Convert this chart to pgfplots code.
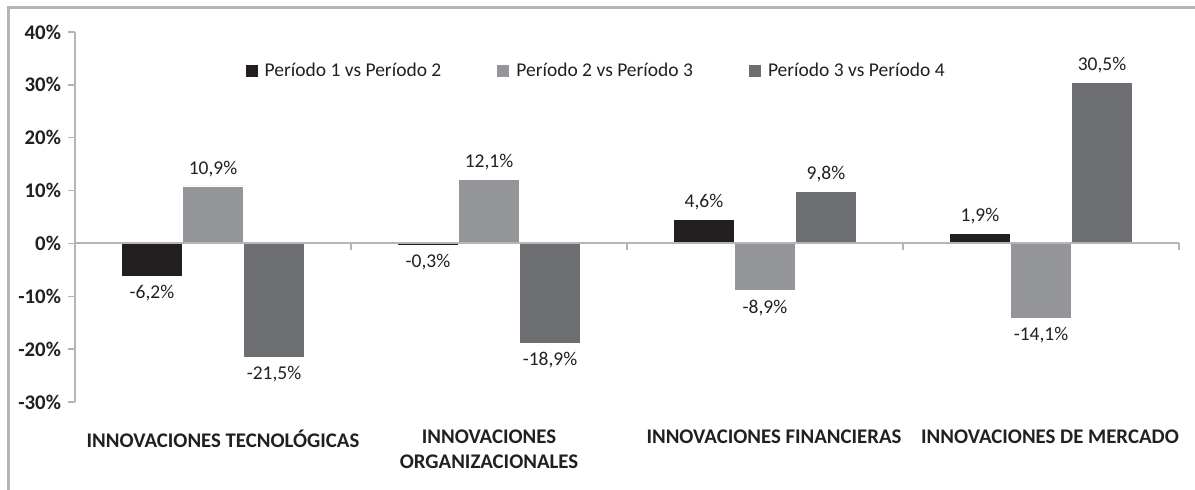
\documentclass[border=0pt]{standalone}
\usepackage{pgfplots}
\pgfplotsset{compat=1.18}
\usepackage{pgfplotstable}
\usepackage{fontspec}
\setmainfont{Carlito}
\definecolor{c1}{HTML}{231F20}
\definecolor{c2}{HTML}{939598}
\definecolor{c3}{HTML}{6D6E71}
\definecolor{axg}{HTML}{B5B5B5}
\definecolor{txt}{HTML}{231F20}
\pgfplotsset{sqlegend/.style={legend image code/.code={\fill[##1,draw=none] (0pt,-3pt) rectangle (6pt,3pt);}}}

\pgfplotstableread{
x y
0 -6.2
1 -0.3
2 4.6
3 1.9
}\dataA
\pgfplotstableread{
x y
0 10.9
1 12.1
2 -8.9
3 -14.1
}\dataB
\pgfplotstableread{
x y
0 -21.5
1 -18.9
2 9.8
3 30.5
}\dataC

\begin{document}
\begin{tikzpicture}[x=1pt,y=1pt]
\useasboundingbox (0,0) rectangle (597.5,245);
\draw[axg, line width=1.5pt] (4,0) -- (4,241) -- (597.5,241);
\begin{axis}[
  at={(37.5pt,44pt)}, anchor=south west,
  width=552pt, height=185pt, scale only axis,
  xmin=-0.5, xmax=3.5, ymin=-30, ymax=40,
  axis lines=left,
  x axis line style={draw=none},
  y axis line style={axg, line width=0.75pt, -},
  ytick={-30,-20,...,40},
  yticklabel={\pgfmathprintnumber[assume math mode=true]{\tick}\%},
  yticklabel style={font=\fontsize{10.4}{12}\selectfont\bfseries, text=txt},
  ytick style={axg, line width=0.75pt},
  tick align=outside, major tick length=3.5pt,
  xtick={0,1,2,3}, xtick style={draw=none},
  xticklabels={\hspace*{10pt}INNOVACIONES TECNOLÓGICAS, {INNOVACIONES\\ORGANIZACIONALES}, \hspace*{9pt}INNOVACIONES FINANCIERAS, \hspace*{9pt}INNOVACIONES DE MERCADO},
  xticklabel style={font=\fontsize{10.4}{12.5}\selectfont\bfseries, text=txt, align=center, anchor=north, yshift=-7pt},
  ybar=0pt, bar width=30.5pt,
  nodes near coords={\pgfmathprintnumber[use comma,fixed,fixed zerofill,precision=1,assume math mode=true]{\pgfplotspointmeta}\%},
  nodes near coords style={font=\fontsize{9.75}{11.7}\selectfont, text=txt, inner sep=4.5pt},
  legend style={draw=none, fill=none, at={(0.473,0.895)}, anchor=center, legend columns=3,
    font=\fontsize{9.75}{11.7}\selectfont, text=txt,
    /tikz/every odd column/.append style={column sep=1.5pt},
    /tikz/every even column/.append style={column sep=26pt}},
  clip=false,
]
\addplot[fill=c1, draw=white, line width=0.3pt, sqlegend] table[x=x,y=y] {\dataA};
\addplot[fill=c2, draw=white, line width=0.3pt, sqlegend] table[x=x,y=y] {\dataB};
\addplot[fill=c3, draw=white, line width=0.3pt, sqlegend] table[x=x,y=y] {\dataC};
\legend{Período 1 vs Período 2, Período 2 vs Período 3, Período 3 vs Período 4}
\draw[axg, line width=1pt] (axis cs:-0.5,0) -- (axis cs:3.5,0);
\draw[axg, line width=0.75pt] (axis cs:0.5,0) -- (axis cs:0.5,-1.3);
\draw[axg, line width=0.75pt] (axis cs:1.5,0) -- (axis cs:1.5,-1.3);
\draw[axg, line width=0.75pt] (axis cs:2.5,0) -- (axis cs:2.5,-1.3);
\draw[axg, line width=0.75pt] (axis cs:3.5,0) -- (axis cs:3.5,-1.3);
\end{axis}
\end{tikzpicture}
\end{document}
